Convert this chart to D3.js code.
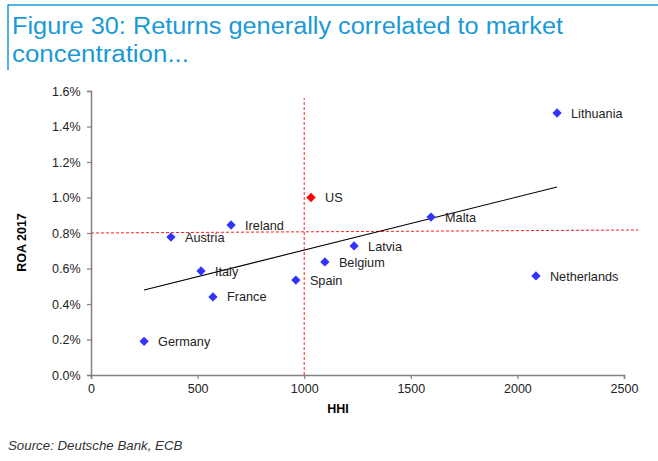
<!DOCTYPE html>
<html>
<head>
<meta charset="utf-8">
<script src="https://cdn.jsdelivr.net/npm/d3@7"></script>
<style>
  body { margin: 0; background: #fff; }
  svg { display: block; font-family: "Liberation Sans", Arial, sans-serif; }
</style>
</head>
<body>
<div id="chart"></div>
<script>
// Country data: HHI vs ROA 2017 (%)
const countries = ['Lithuania', 'US', 'Malta', 'Ireland', 'Austria', 'Latvia', 'Belgium', 'Italy', 'Spain', 'Netherlands', 'France', 'Germany'];
const hhi = [2186, 1032, 1595, 657, 375, 1234, 1097, 516, 961, 2087, 572, 249];
const roa = [1.476, 1.0, 0.89, 0.845, 0.777, 0.727, 0.637, 0.586, 0.535, 0.558, 0.44, 0.19];

// trend line end points [hhi, roa]
const trend = [[249, 0.479], [2186, 1.059]];
// red reference lines
const vRef = [[1000, 0], [1000, 1.56]];
const hRef = [[0, 0.8], [2567, 0.817]];

const xTicks = [0, 500, 1000, 1500, 2000, 2500];
const yTicks = [0, 0.2, 0.4, 0.6, 0.8, 1.0, 1.2, 1.4, 1.6];

const width = 658, height = 461;
const svg = d3.select('#chart').append('svg')
    .attr('width', width)
    .attr('height', height);

// title box
svg.append('line')
    .attr('x1', 8).attr('x2', width).attr('y1', 5).attr('y2', 5)
    .style('stroke', '#1a9ad6').style('stroke-width', 1.5);
svg.append('line')
    .attr('x1', 8).attr('x2', 8).attr('y1', 4.5).attr('y2', 70)
    .style('stroke', '#1a9ad6').style('stroke-width', 1.5);

const title = svg.append('text')
    .style('fill', '#1a9ad6')
    .style('font-family', '"Liberation Sans", Arial, sans-serif')
    .style('font-size', '23.5px');
title.append('tspan').attr('x', 12).attr('y', 34)
    .attr('textLength', 551).attr('lengthAdjust', 'spacingAndGlyphs')
    .text('Figure 30: Returns generally correlated to market');
title.append('tspan').attr('x', 12).attr('y', 62)
    .attr('textLength', 177).attr('lengthAdjust', 'spacingAndGlyphs')
    .text('concentration...');

const x = d3.scaleLinear().domain([0, 2500]).range([91, 624]);
const y = d3.scaleLinear().domain([0, 1.6]).range([375, 91]);

// axes
const xAxis = svg.append('g')
    .attr('transform', 'translate(0,375)')
    .call(d3.axisBottom(x).tickValues(xTicks).tickSize(4).tickPadding(5).tickFormat(d3.format('d')));
const yAxis = svg.append('g')
    .attr('transform', 'translate(91,0)')
    .call(d3.axisLeft(y).tickValues(yTicks).tickSize(4).tickPadding(6.5).tickFormat(d => d.toFixed(1) + '%'));

[xAxis, yAxis].forEach(a => {
    a.select('.domain').style('stroke', '#808080').style('stroke-width', 1.5);
    a.selectAll('.tick line').style('stroke', '#808080').style('stroke-width', 1.2);
    a.selectAll('.tick text')
        .style('font-size', '12.5px')
        .style('fill', '#222')
        .style('font-family', '"Liberation Sans", Arial, sans-serif');
});

// axis titles
svg.append('text')
    .attr('x', 338).attr('y', 413)
    .attr('text-anchor', 'middle')
    .style('font-size', '12.5px').style('font-weight', 'bold')
    .text('HHI');
svg.append('text')
    .attr('transform', 'translate(26,242.5) rotate(-90)')
    .attr('text-anchor', 'middle')
    .style('font-size', '12.5px').style('font-weight', 'bold')
    .text('ROA 2017');

// reference lines
const line = d3.line().x(d => x(d[0])).y(d => y(d[1]));
[vRef, hRef].forEach(r => {
    svg.append('path')
        .attr('d', line(r))
        .style('fill', 'none')
        .style('stroke', '#ff2020')
        .style('stroke-width', 1)
        .style('stroke-dasharray', '3,2');
});

// trend line
svg.append('path')
    .attr('d', line(trend))
    .style('fill', 'none')
    .style('stroke', '#000')
    .style('stroke-width', 1.1);

// points
const data = countries.map((c, i) => ({ name: c, x: hhi[i], y: roa[i] }));
const diamond = d3.symbol().type(d3.symbolDiamond2).size(55);

const pts = svg.append('g').selectAll('g')
    .data(data)
    .join('g')
    .attr('transform', d => `translate(${x(d.x)},${y(d.y)})`);

pts.append('path')
    .attr('d', diamond)
    .style('fill', d => d.name === 'US' ? '#ff0000' : '#3333ff');

pts.append('text')
    .attr('x', 14)
    .attr('dy', '0.36em')
    .style('font-size', '12.7px')
    .style('fill', '#222')
    .text(d => d.name);

// source
svg.append('text')
    .attr('x', 8).attr('y', 450)
    .style('font-size', '13.3px')
    .style('font-style', 'italic')
    .style('fill', '#333')
    .text('Source: Deutsche Bank, ECB');
</script>
</body>
</html>
